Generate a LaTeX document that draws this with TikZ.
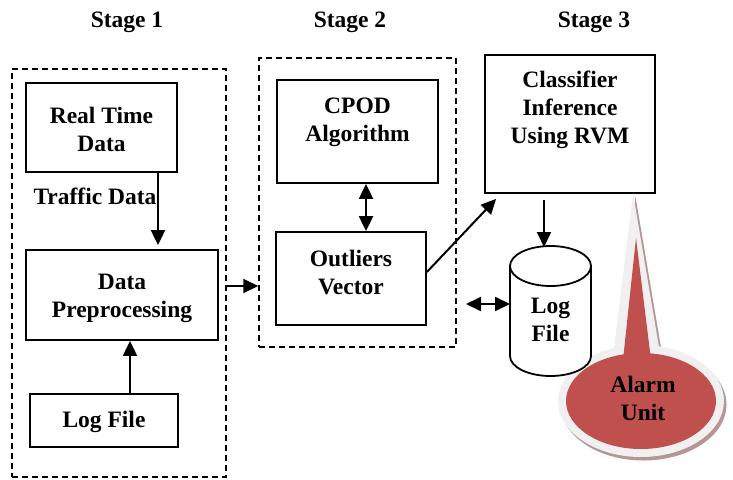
\documentclass[tikz,border=0pt]{standalone}
\usepackage{fontspec}
\setmainfont{Liberation Serif}
\usetikzlibrary{arrows.meta,calc}
\definecolor{alarmred}{HTML}{C0504D}
\definecolor{rimgray}{HTML}{F0F0F0}
\definecolor{shadowgray}{HTML}{B59595}
\tikzset{
  box/.style={draw, line width=1.8pt, rectangle, inner sep=0pt},
  dbox/.style={draw, line width=1.5pt, dash pattern=on 6pt off 4pt, rectangle, inner sep=0pt},
  lbl/.style={font=\fontsize{23.5}{28}\selectfont\bfseries, align=center, inner sep=0pt},
  arr/.style={line width=2pt, -{Triangle[length=15pt,width=14pt]}},
  darr/.style={line width=2pt, {Triangle[length=15pt,width=14pt]}-{Triangle[length=15pt,width=14pt]}}
}
\begin{document}
\begin{tikzpicture}[x=1pt,y=-1pt]
\useasboundingbox (0,0) rectangle (733,479);
% stage labels
\node[lbl] (st1) at (127,22) {Stage 1};
\node[lbl] (st2) at (350,22) {Stage 2};
\node[lbl] (st3) at (594,22) {Stage 3};
% dashed stage boxes
\node[dbox, minimum width=214, minimum height=408] (s1) at (119,273) {};
\node[dbox, minimum width=197, minimum height=289] (s2) at (357.5,202.5) {};
% stage 1
\node[box, minimum width=151, minimum height=89] (rt) at (101.5,127.5) {};
\node[lbl] (rtt) at (101.5,129) {Real Time\\Data};
\node[lbl] (td) at (95,196) {Traffic Data};
\node[box, minimum width=192, minimum height=90] (dp) at (122,295) {};
\node[lbl] (dpt) at (122,298) {Data\\Preprocessing};
\node[box, minimum width=148, minimum height=53] (lf1) at (104,420.5) {};
\node[lbl] (lf1t) at (104,422) {Log File};
% stage 2
\node[box, minimum width=161, minimum height=103] (cpod) at (357.5,131.5) {};
\node[lbl] (cpodt) at (357.5,122) {CPOD\\Algorithm};
\node[box, minimum width=150, minimum height=93] (ov) at (351,278.5) {};
\node[lbl] (ovt) at (351,273) {Outliers\\Vector};
% stage 3
\node[box, minimum width=170, minimum height=138] (cls) at (570,124) {};
\node[lbl] (clst) at (570,109.5) {Classifier\\Inference\\Using RVM};
% alarm callout
\begin{scope}[shift={(2.5,3.5)}]
\fill[shadowgray] (633,193) -- (612,365) -- (662,365) -- cycle;
\fill[shadowgray] (641,401) ellipse[x radius=83pt, y radius=56pt];
\end{scope}
\fill[rimgray] (633,193) -- (612,365) -- (662,365) -- cycle;
\fill[rimgray] (641,401) ellipse[x radius=83pt, y radius=56pt];
\fill[alarmred] (636,238) -- (623,360) -- (651,360) -- cycle;
\fill[alarmred] (641,401) ellipse[x radius=75pt, y radius=48pt];
\node[lbl] (alarm) at (643,398) {Alarm\\Unit};
% cylinder
\draw[line width=1.8pt, fill=white] (510,266) -- (510,356)
  arc[start angle=180, end angle=360, x radius=40.5pt, y radius=20pt] -- (591,266);
\draw[line width=1.8pt] (550.5,266) ellipse[x radius=40.5pt, y radius=20pt];
\coordinate (cyltop) at (544,247);
\coordinate (cylL) at (510,304);
\node[lbl] (lf2) at (550.5,320) {Log\\File};
% connectors
\draw[arr] (158,0 |- rt.south) -- ([yshift=4pt]158,0 |- dp.north);
\draw[arr] (130,0 |- lf1.north) -- (130,0 |- dp.south);
\draw[arr] (s1.east |- 0,286) -- (s2.west |- 0,286);
\draw[darr] (366,0 |- cpod.south) -- (366,0 |- ov.north);
\draw[arr] (ov.east |- 0,272) -- ($(cls.south west)+(12,5)$);
\draw[arr] ([yshift=-6pt]544,0 |- cls.south) -- (cyltop);
\coordinate (lfl) at (466,304);
\draw[darr] (lfl) -- (cylL);
\end{tikzpicture}
\end{document}
